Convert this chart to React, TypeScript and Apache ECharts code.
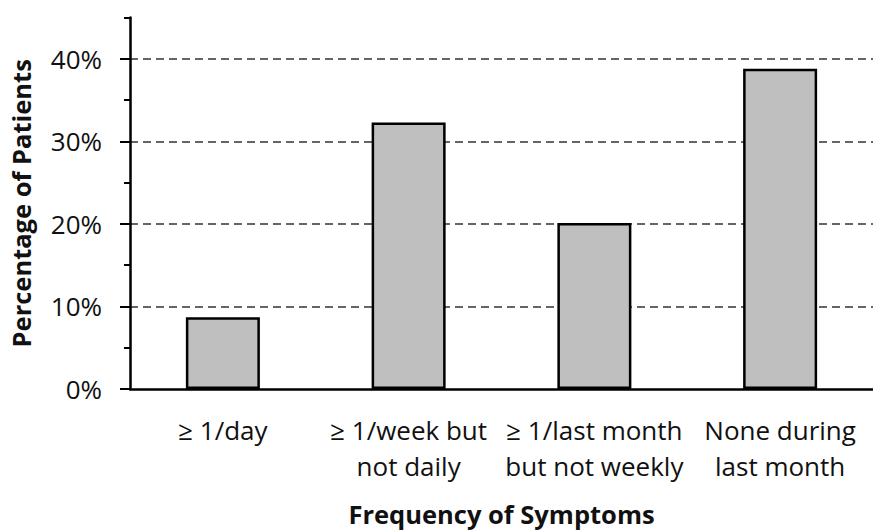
import React, { useEffect, useRef } from "react";
import * as echarts from "echarts";

const categories = [
  "≥ 1/day",
  "≥ 1/week but\nnot daily",
  "≥ 1/last month\nbut not weekly",
  "None during\nlast month",
];
const values = [8.7, 32.3, 20.1, 38.8];
const majorTicks = [0, 10, 20, 30, 40];
const xTitle = "Frequency of Symptoms";
const yTitle = "Percentage of Patients";

const FONT = "'Open Sans', Lato, sans-serif";

export default function App() {
  const ref = useRef<HTMLDivElement>(null);
  useEffect(() => {
    if (!ref.current) return;
    const chart = echarts.init(ref.current, null, { renderer: "svg" });
    chart.setOption({
      animation: false,
      backgroundColor: "#ffffff",
      textStyle: { fontFamily: FONT },
      grid: { left: 129.5, right: -5.5, top: 17.6, bottom: 137.7, containLabel: false },
      xAxis: {
        type: "category",
        data: categories,
        axisLine: { show: true, lineStyle: { color: "#000", width: 2.5 } },
        axisTick: { show: false },
        axisLabel: {
          color: "#111",
          fontSize: 26,
          fontFamily: FONT,
          lineHeight: 36,
          margin: 23,
          interval: 0,
        },
        name: xTitle,
        nameLocation: "middle",
        nameGap: 112,
        nameTextStyle: { color: "#111", fontSize: 25.5, fontWeight: "bold", fontFamily: FONT },
      },
      yAxis: [
        {
          type: "value",
          min: 0,
          max: 45,
          interval: 10,
          position: "left",
          axisLine: { show: true, onZero: false, lineStyle: { color: "#000", width: 2.5 } },
          axisTick: { show: true, length: 10, lineStyle: { color: "#000", width: 2 }, customValues: majorTicks },
          axisLabel: {
            color: "#111",
            fontSize: 26,
            fontFamily: FONT,
            margin: 28,
            customValues: majorTicks,
            formatter: (v: number) => (v % 10 === 0 && v <= 40 ? v + "%" : ""),
          },
          splitLine: {
            show: true,
            showMinLine: false,
            lineStyle: { color: "#333333", width: 1.6, type: [8, 5] },
          },
          name: yTitle,
          nameLocation: "middle",
          nameGap: 96,
          nameRotate: 90,
          nameTextStyle: { color: "#111", fontSize: 25.5, fontWeight: "bold", fontFamily: FONT },
        },
        {
          type: "value",
          min: 0,
          max: 45,
          interval: 5,
          position: "left",
          axisLine: { show: false },
          axisTick: { show: true, length: 6, lineStyle: { color: "#000", width: 2 } },
          axisLabel: { show: false },
          splitLine: { show: false },
        },
      ],
      series: [
        {
          type: "bar",
          data: values,
          yAxisIndex: 0,
          barWidth: 74,
          itemStyle: { color: "#bfbfbf", borderColor: "#000", borderWidth: 2.5 },
        },
      ],
    });
    return () => chart.dispose();
  }, []);
  return <div ref={ref} style={{ width: 873, height: 532, position: "absolute", left: 0, top: 0 }} />;
}
